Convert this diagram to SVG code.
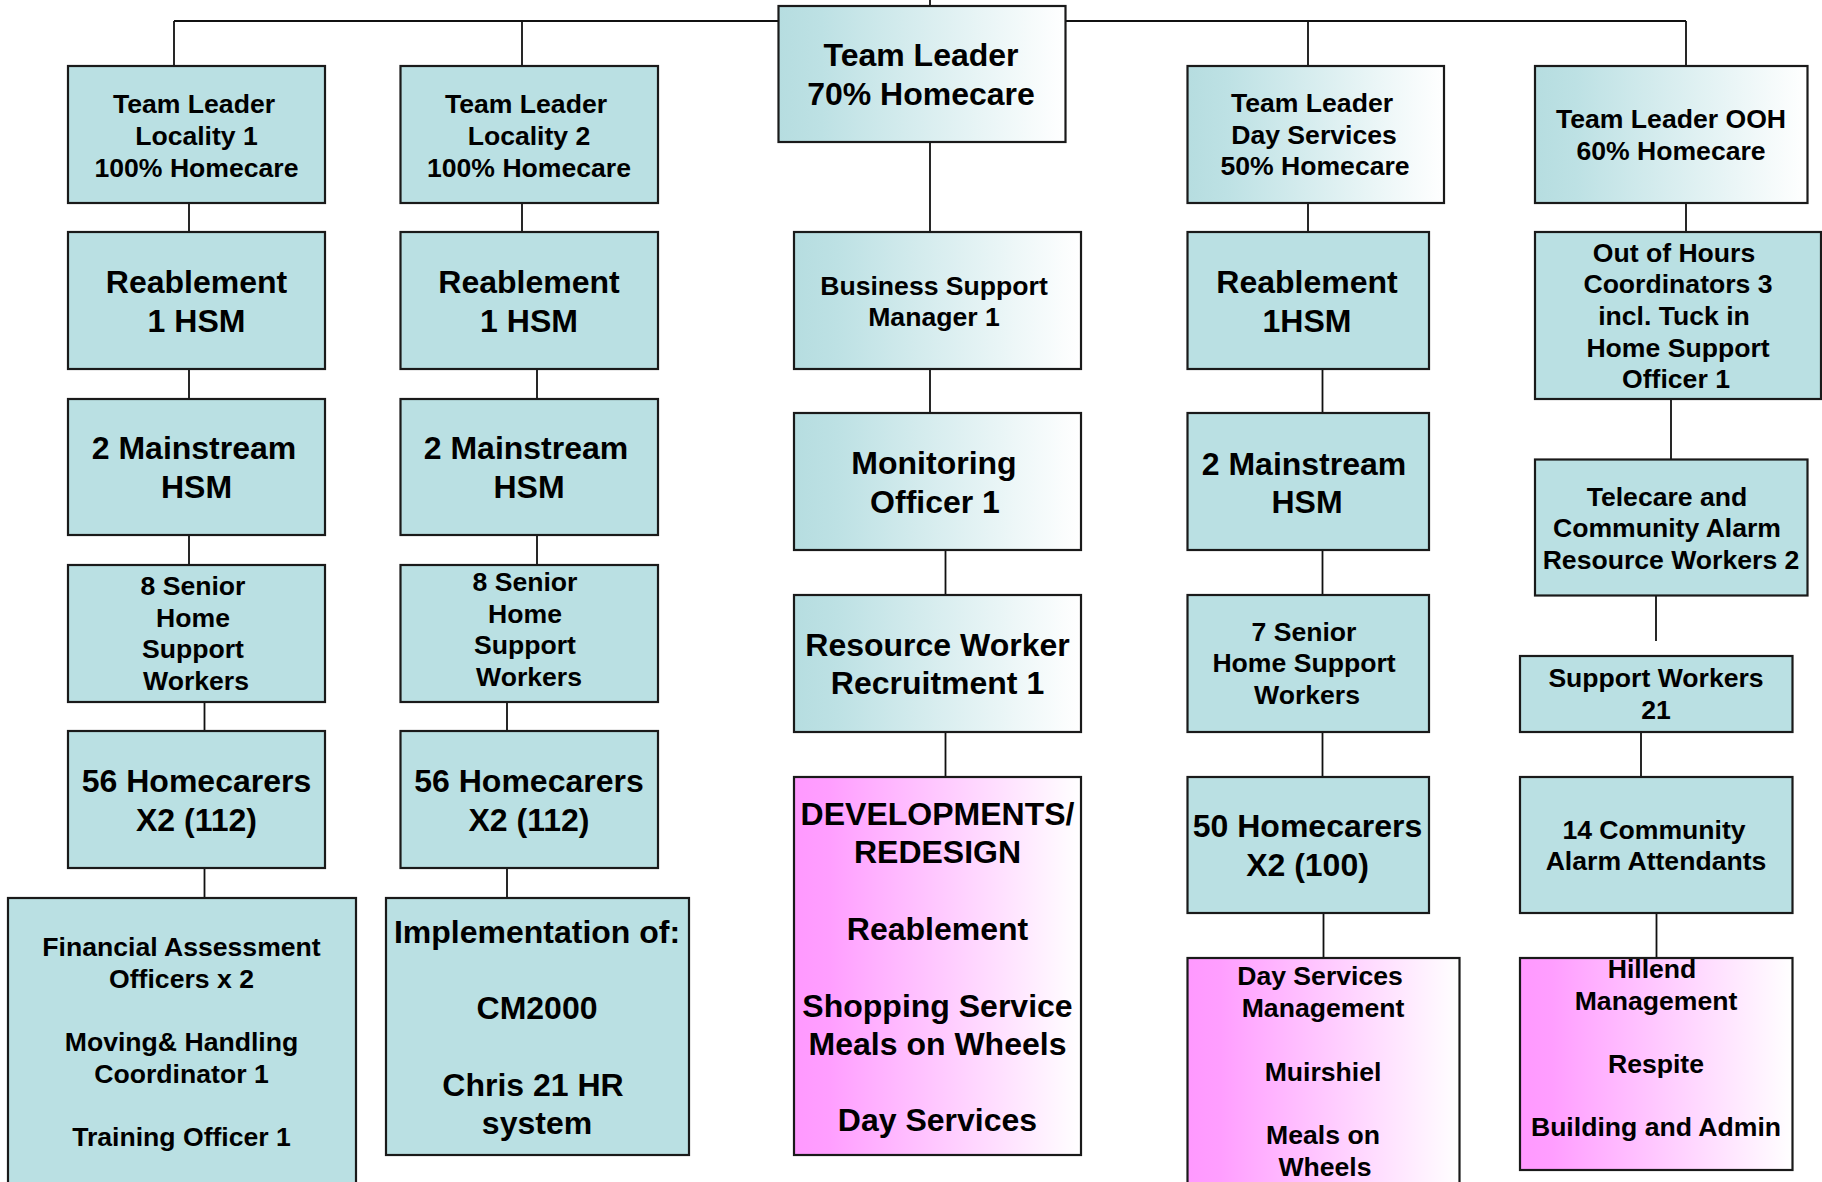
<svg xmlns="http://www.w3.org/2000/svg" width="1822" height="1182" viewBox="0 0 1822 1182">
<defs>
<linearGradient id="gTeal" x1="0" y1="0" x2="1" y2="0">
<stop offset="0" stop-color="#B6DDE0"/>
<stop offset="0.15" stop-color="#BDE1E4"/>
<stop offset="1" stop-color="#FFFFFF"/>
</linearGradient>
<linearGradient id="gPink" x1="0" y1="0" x2="1" y2="0">
<stop offset="0" stop-color="#FF99FF"/>
<stop offset="0.12" stop-color="#FF9EFF"/>
<stop offset="1" stop-color="#FFFFFF"/>
</linearGradient>
<style>
.b{fill:#BAE0E3;stroke:#1A1A1A;stroke-width:2.2}
.t{fill:url(#gTeal);stroke:#1A1A1A;stroke-width:2.2}
.p{fill:url(#gPink);stroke:#1A1A1A;stroke-width:2.2}
.c{stroke:#111;stroke-width:1.8;fill:none}
text{font-family:"Liberation Sans",Arial,sans-serif;font-weight:bold;text-anchor:middle;fill:#000}
.s{font-size:26.6px}
.l{font-size:32px}
</style>
</defs>
<rect width="1822" height="1182" fill="#FFFFFF"/>
<g id="connectors">
<path class="c" d="M930 0V6M174 21H1686M174 21V66M522 21V66M1308 21V66M1686 21V66"/>
<path class="c" d="M189 203V232M189 369V414M189 535V565M204.5 702V731M204.5 868V898"/>
<path class="c" d="M522 203V232M537 369V399M537 535V565M507 702V731M507 868V898"/>
<path class="c" d="M930 142V232M930 369V413M945.5 550V595M945.5 732V777"/>
<path class="c" d="M1308 203V232M1322.5 369V413M1322.5 550V595M1322.5 732V777M1323.5 913V958"/>
<path class="c" d="M1686 203V232M1671 399V459M1656 596V641M1641 732V777M1656.5 913V958"/>
</g>
<g id="tl-locality1"><rect class="b" x="68" y="66" width="257" height="137"/>
<text class="s" x="196.5"><tspan x="194" y="113">Team Leader</tspan><tspan x="196.5" y="145">Locality 1</tspan><tspan x="196.5" y="177">100% Homecare</tspan></text></g>
<g id="reab1"><rect class="b" x="68" y="232" width="257" height="137"/>
<text class="l"><tspan x="196.5" y="293">Reablement</tspan><tspan x="196.5" y="331.5">1 HSM</tspan></text></g>
<g id="main1"><rect class="b" x="68" y="399" width="257" height="136"/>
<text class="l"><tspan x="194" y="459">2 Mainstream</tspan><tspan x="196.5" y="497.5">HSM</tspan></text></g>
<g id="senior1"><rect class="b" x="68" y="565" width="257" height="137"/>
<text class="s"><tspan x="193" y="595">8 Senior</tspan><tspan x="193" y="626.7">Home</tspan><tspan x="193" y="658.4">Support</tspan><tspan x="196" y="690">Workers</tspan></text></g>
<g id="homecarers1"><rect class="b" x="68" y="731" width="257" height="137"/>
<text class="l"><tspan x="196.5" y="792">56 Homecarers</tspan><tspan x="196.5" y="830.5">X2 (112)</tspan></text></g>
<g id="finance"><rect class="b" x="8" y="898" width="348" height="300"/>
<text class="s"><tspan x="181.5" y="956">Financial Assessment</tspan><tspan x="181.5" y="987.7">Officers x 2</tspan><tspan x="181.5" y="1051">Moving&amp; Handling</tspan><tspan x="181.5" y="1082.7">Coordinator 1</tspan><tspan x="181.5" y="1146">Training Officer 1</tspan></text></g>

<g id="tl-locality2"><rect class="b" x="400.5" y="66" width="257.5" height="137"/>
<text class="s"><tspan x="526" y="113">Team Leader</tspan><tspan x="529" y="145">Locality 2</tspan><tspan x="529" y="177">100% Homecare</tspan></text></g>
<g id="reab2"><rect class="b" x="400.5" y="232" width="257.5" height="137"/>
<text class="l"><tspan x="529" y="293">Reablement</tspan><tspan x="529" y="331.5">1 HSM</tspan></text></g>
<g id="main2"><rect class="b" x="400.5" y="399" width="257.5" height="136"/>
<text class="l"><tspan x="526" y="459">2 Mainstream</tspan><tspan x="529" y="497.5">HSM</tspan></text></g>
<g id="senior2"><rect class="b" x="400.5" y="565" width="257.5" height="137"/>
<text class="s"><tspan x="525" y="591">8 Senior</tspan><tspan x="525" y="622.7">Home</tspan><tspan x="525" y="654.4">Support</tspan><tspan x="529" y="686">Workers</tspan></text></g>
<g id="homecarers2"><rect class="b" x="400.5" y="731" width="257.5" height="137"/>
<text class="l"><tspan x="529" y="792">56 Homecarers</tspan><tspan x="529" y="830.5">X2 (112)</tspan></text></g>
<g id="implementation"><rect class="b" x="386" y="898" width="303" height="257"/>
<text class="l"><tspan x="537" y="943">Implementation of:</tspan><tspan x="537" y="1019">CM2000</tspan><tspan x="533" y="1096">Chris 21 HR</tspan><tspan x="537" y="1134">system</tspan></text></g>

<g id="tl-center"><rect class="t" x="778.5" y="6" width="287" height="136"/>
<text class="l"><tspan x="921" y="66">Team Leader</tspan><tspan x="921" y="104.5">70% Homecare</tspan></text></g>
<g id="business"><rect class="t" x="794" y="232" width="287" height="137"/>
<text class="s"><tspan x="934" y="294.5">Business Support</tspan><tspan x="934" y="326">Manager 1</tspan></text></g>
<g id="monitoring"><rect class="t" x="794" y="413" width="287" height="137"/>
<text class="l"><tspan x="934" y="474">Monitoring</tspan><tspan x="935" y="512.5">Officer 1</tspan></text></g>
<g id="resource"><rect class="t" x="794" y="595" width="287" height="137"/>
<text class="l"><tspan x="937.5" y="655.5">Resource Worker</tspan><tspan x="937.5" y="694">Recruitment 1</tspan></text></g>
<g id="developments"><rect class="p" x="794" y="777" width="287" height="378"/>
<text class="l"><tspan x="937.5" y="825">DEVELOPMENTS/</tspan><tspan x="937.5" y="863.3">REDESIGN</tspan><tspan x="937.5" y="940">Reablement</tspan><tspan x="937.5" y="1016.5">Shopping Service</tspan><tspan x="937.5" y="1054.8">Meals on Wheels</tspan><tspan x="937.5" y="1131.4">Day Services</tspan></text></g>

<g id="tl-dayservices"><rect class="t" x="1187.5" y="66" width="256.5" height="137"/>
<text class="s"><tspan x="1312" y="112">Team Leader</tspan><tspan x="1314" y="143.5">Day Services</tspan><tspan x="1315" y="175">50% Homecare</tspan></text></g>
<g id="reab-ds"><rect class="b" x="1187.5" y="232" width="241.5" height="137"/>
<text class="l"><tspan x="1307" y="293">Reablement</tspan><tspan x="1307" y="331.5">1HSM</tspan></text></g>
<g id="main-ds"><rect class="b" x="1187.5" y="413" width="241.5" height="137"/>
<text class="l"><tspan x="1304" y="474.5">2 Mainstream</tspan><tspan x="1307" y="512.5">HSM</tspan></text></g>
<g id="senior-ds"><rect class="b" x="1187.5" y="595" width="241.5" height="137"/>
<text class="s"><tspan x="1304" y="640.5">7 Senior</tspan><tspan x="1304" y="672">Home Support</tspan><tspan x="1307" y="703.5">Workers</tspan></text></g>
<g id="homecarers-ds"><rect class="b" x="1187.5" y="777" width="241.5" height="136"/>
<text class="l"><tspan x="1307.5" y="837">50 Homecarers</tspan><tspan x="1307.5" y="875.5">X2 (100)</tspan></text></g>
<g id="dayservices-mgmt"><rect class="p" x="1187.5" y="958" width="272" height="240"/>
<text class="s"><tspan x="1320" y="985">Day Services</tspan><tspan x="1323" y="1016.7">Management</tspan><tspan x="1323" y="1080.5">Muirshiel</tspan><tspan x="1323" y="1144">Meals on</tspan><tspan x="1325" y="1175.5">Wheels</tspan></text></g>

<g id="tl-ooh"><rect class="t" x="1535" y="66" width="272.5" height="137"/>
<text class="s"><tspan x="1671" y="128">Team Leader OOH</tspan><tspan x="1671" y="159.5">60% Homecare</tspan></text></g>
<g id="ooh-coord"><rect class="b" x="1535" y="232" width="286" height="167"/>
<text class="s"><tspan x="1674" y="261.5">Out of Hours</tspan><tspan x="1678" y="293.2">Coordinators 3</tspan><tspan x="1674" y="325">incl. Tuck in</tspan><tspan x="1678" y="356.6">Home Support</tspan><tspan x="1676" y="388.3">Officer 1</tspan></text></g>
<g id="telecare"><rect class="b" x="1535" y="459.5" width="272.5" height="136"/>
<text class="s"><tspan x="1667" y="505.5">Telecare and</tspan><tspan x="1667" y="537">Community Alarm</tspan><tspan x="1671" y="569">Resource Workers 2</tspan></text></g>
<g id="support-workers"><rect class="b" x="1520" y="656" width="272.5" height="76"/>
<text class="s"><tspan x="1656" y="687">Support Workers</tspan><tspan x="1656" y="719">21</tspan></text></g>
<g id="community-alarm"><rect class="b" x="1520" y="777" width="272.5" height="136"/>
<text class="s"><tspan x="1654" y="838.5">14 Community</tspan><tspan x="1656" y="870.3">Alarm Attendants</tspan></text></g>
<g id="hillend"><rect class="p" x="1520" y="958" width="272.5" height="212"/>
<text class="s"><tspan x="1652" y="978">Hillend</tspan><tspan x="1656" y="1009.7">Management</tspan><tspan x="1656" y="1073">Respite</tspan><tspan x="1656" y="1136.4">Building and Admin</tspan></text></g>
</svg>
